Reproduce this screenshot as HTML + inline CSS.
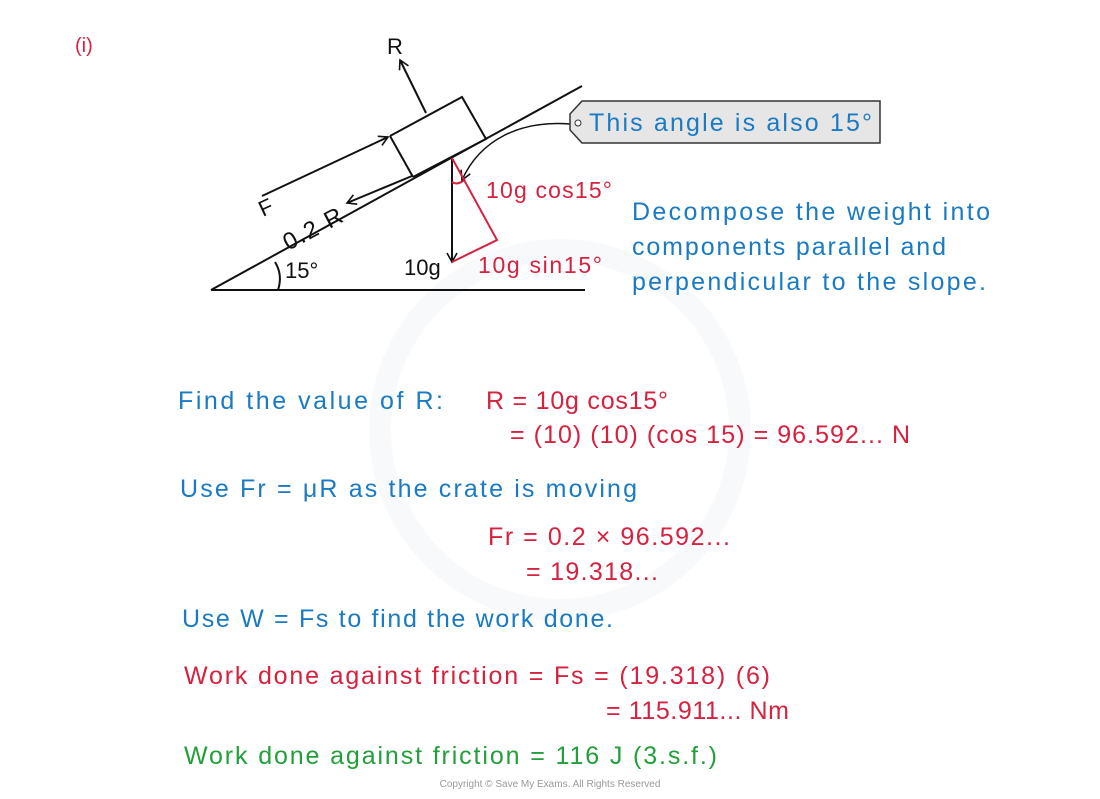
<!DOCTYPE html>
<html><head><meta charset="utf-8"><style>
body{margin:0;background:#fff;width:1100px;height:794px;overflow:hidden}
svg text{font-family:"Liberation Sans",sans-serif}
</style></head><body>
<svg width="1100" height="794" viewBox="0 0 1100 794" xmlns="http://www.w3.org/2000/svg">
<defs><marker id="a" markerWidth="12" markerHeight="12" refX="10" refY="6" orient="auto" markerUnits="userSpaceOnUse"><path d="M1,1 L10,6 L1,11" fill="none" stroke="#111" stroke-width="1.6"/></marker></defs>
<circle cx="560" cy="430" r="180" fill="none" stroke="#f7f9fb" stroke-width="22"/>
<text x="75" y="52" fill="#d6213f" font-size="20">(i)</text>
<g stroke="#111" stroke-width="2" fill="none">
<line x1="211" y1="290" x2="585" y2="290"/>
<line x1="211" y1="290" x2="582" y2="86"/>
<polyline points="390,136 462,97 486,139 413,177"/>
<line x1="390" y1="136" x2="413" y2="177"/>
<line x1="426" y1="113" x2="400" y2="60" marker-end="url(#a)"/>
<line x1="262" y1="196" x2="388" y2="137" marker-end="url(#a)"/>
<line x1="412" y1="176" x2="347" y2="203" marker-end="url(#a)"/>
<line x1="452" y1="158" x2="452" y2="262" marker-end="url(#a)"/>
<path d="M275,262 Q283,275 278,290"/>
<path d="M452,182 Q458,186 465,179" stroke="#d6213f"/>
<path d="M570,124 C520,120 480,140 462,180" stroke-width="1.5" marker-end="url(#a)"/>
</g>
<polyline points="452,158 497,240 452,262" fill="none" stroke="#d6213f" stroke-width="2"/>
<path d="M582,101 L880,101 L880,143 L582,143 L570,130 L570,114 Z" fill="#e6e6e6" stroke="#333" stroke-width="1.5"/>
<circle cx="578" cy="123" r="3" fill="#fff" stroke="#333"/>
<g font-size="22" fill="#111">
<text x="387" y="54">R</text>
<text x="258" y="215" transform="rotate(-25 265 205)">F</text>
<text x="278" y="240" transform="rotate(-28 305 225)" font-size="24" textLength="64" lengthAdjust="spacing">0.2 R</text>
<text x="285" y="278">15°</text>
<text x="404" y="275">10g</text>
</g>
<g font-size="23" fill="#d6213f">
<text x="486" y="198" textLength="126" lengthAdjust="spacing">10g cos15°</text>
<text x="478" y="273" textLength="124" lengthAdjust="spacing">10g sin15°</text>
</g>
<g font-size="25" fill="#1a7ac4">
<text x="589" y="131" textLength="283" lengthAdjust="spacing">This angle is also 15°</text>
<text x="632" y="220" textLength="358" lengthAdjust="spacing">Decompose the weight into</text>
<text x="632" y="255" textLength="314" lengthAdjust="spacing">components parallel and</text>
<text x="632" y="290" textLength="354" lengthAdjust="spacing">perpendicular to the slope.</text>
<text x="178" y="409" textLength="265" lengthAdjust="spacing">Find the value of R:</text>
<text x="180" y="497" textLength="457" lengthAdjust="spacing">Use Fr = μR as the crate is moving</text>
<text x="182" y="627" textLength="431" lengthAdjust="spacing">Use W = Fs to find the work done.</text>
</g>
<g font-size="25" fill="#d6213f">
<text x="486" y="409" textLength="182" lengthAdjust="spacing">R = 10g cos15°</text>
<text x="510" y="443" textLength="400" lengthAdjust="spacing">= (10) (10) (cos 15) = 96.592... N</text>
<text x="488" y="545" textLength="242" lengthAdjust="spacing">Fr = 0.2 × 96.592...</text>
<text x="526" y="580" textLength="132" lengthAdjust="spacing">= 19.318...</text>
<text x="184" y="684" textLength="586" lengthAdjust="spacing">Work done against friction = Fs = (19.318) (6)</text>
<text x="606" y="719" textLength="183" lengthAdjust="spacing">= 115.911... Nm</text>
</g>
<text x="184" y="764" font-size="25" fill="#21a03a" textLength="533" lengthAdjust="spacing">Work done against friction = 116 J (3.s.f.)</text>
<text x="550" y="787" font-size="10" fill="#999" text-anchor="middle">Copyright © Save My Exams. All Rights Reserved</text>
</svg>
</body></html>
